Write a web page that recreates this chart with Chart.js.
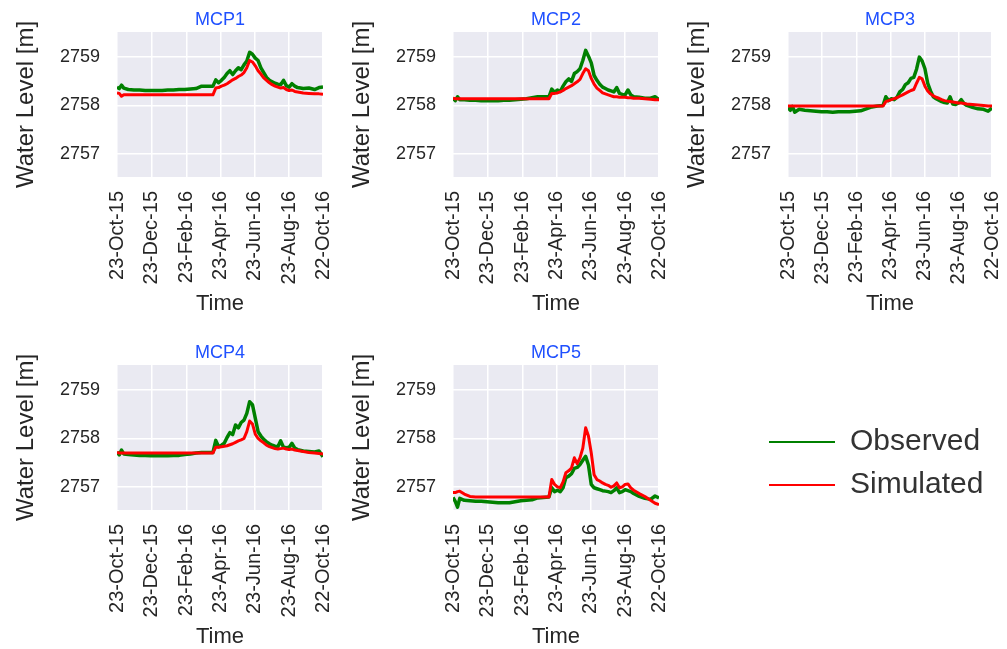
<!DOCTYPE html>
<html>
<head>
<meta charset="utf-8">
<title>Water level MCP1-MCP5</title>
<script src="https://cdn.jsdelivr.net/npm/chart.js@4.4.1/dist/chart.umd.min.js"></script>
<style>
  html, body { margin: 0; padding: 0; background: #fff; overflow: hidden; }
  body { width: 1007px; height: 649px; position: relative; }
  canvas { position: absolute; }
</style>
</head>
<body>
<canvas id="mcp1" width="340" height="317" style="left:0px;top:0px"></canvas>
<canvas id="mcp2" width="340" height="317" style="left:336px;top:0px"></canvas>
<canvas id="mcp3" width="336" height="317" style="left:671px;top:0px"></canvas>
<canvas id="mcp4" width="340" height="317" style="left:0px;top:333px"></canvas>
<canvas id="mcp5" width="340" height="317" style="left:336px;top:333px"></canvas>
<canvas id="legend" width="249" height="110" style="left:756px;top:414px"></canvas>
<script>
// days since 23-Oct-15
var days = [0,4,8,12,20,30,40,50,60,70,80,90,100,110,120,130,140,150,160,
  170,175,180,185,190,195,200,205,210,215,220,225,230,235,240,245,250,255,260,265,270,275,280,285,290,295,300,305,310,315,320,
  330,340,350,358,365];

var tickDays = [0, 61, 123, 183, 244, 305, 365];
var tickLabels = ['23-Oct-15', '23-Dec-15', '23-Feb-16', '23-Apr-16', '23-Jun-16', '23-Aug-16', '22-Oct-16'];
var levelTicks = [2757, 2758, 2759];
var panelNames = ['MCP1', 'MCP2', 'MCP3', 'MCP4', 'MCP5'];

var obsMCP1 = [2758.38,2758.35,2758.42,2758.36,2758.33,2758.32,2758.32,2758.31,2758.31,2758.31,2758.31,2758.32,2758.32,2758.33,2758.33,2758.34,2758.35,2758.40,2758.40,
  2758.40,2758.53,2758.47,2758.52,2758.58,2758.66,2758.72,2758.64,2758.72,2758.78,2758.74,2758.84,2758.92,2759.10,2759.06,2758.98,2758.93,2758.78,2758.68,2758.58,2758.52,2758.49,2758.46,2758.44,2758.43,2758.52,2758.41,2758.38,2758.45,2758.40,2758.37,
  2758.35,2758.36,2758.33,2758.37,2758.38];
var simMCP1 = [2758.26,2758.25,2758.19,2758.22,2758.22,2758.22,2758.22,2758.22,2758.22,2758.22,2758.22,2758.22,2758.22,2758.22,2758.22,2758.22,2758.22,2758.22,2758.22,
  2758.22,2758.36,2758.37,2758.40,2758.42,2758.45,2758.49,2758.53,2758.56,2758.60,2758.63,2758.68,2758.78,2758.93,2758.90,2758.82,2758.72,2758.65,2758.57,2758.52,2758.47,2758.43,2758.40,2758.38,2758.36,2758.37,2758.33,2758.31,2758.32,2758.29,2758.28,
  2758.26,2758.25,2758.24,2758.24,2758.23];

var obsMCP2 = [2758.15,2758.10,2758.18,2758.12,2758.12,2758.11,2758.11,2758.10,2758.10,2758.10,2758.10,2758.11,2758.11,2758.12,2758.13,2758.14,2758.16,2758.18,2758.18,
  2758.18,2758.34,2758.27,2758.32,2758.29,2758.40,2758.49,2758.55,2758.50,2758.66,2758.70,2758.76,2758.93,2759.14,2759.02,2758.88,2758.62,2758.52,2758.44,2758.38,2758.35,2758.32,2758.30,2758.28,2758.37,2758.25,2758.23,2758.22,2758.32,2758.22,2758.18,
  2758.17,2758.15,2758.15,2758.18,2758.12];
var simMCP2 = [2758.15,2758.14,2758.14,2758.14,2758.14,2758.14,2758.14,2758.14,2758.14,2758.14,2758.14,2758.14,2758.14,2758.14,2758.14,2758.14,2758.14,2758.14,2758.14,
  2758.14,2758.25,2758.25,2758.26,2758.28,2758.31,2758.35,2758.38,2758.41,2758.45,2758.49,2758.54,2758.66,2758.76,2758.72,2758.56,2758.44,2758.36,2758.31,2758.26,2758.24,2758.22,2758.20,2758.18,2758.18,2758.17,2758.17,2758.17,2758.16,2758.16,2758.15,
  2758.15,2758.14,2758.13,2758.12,2758.12];

var obsMCP3 = [2757.96,2757.90,2757.98,2757.86,2757.92,2757.90,2757.89,2757.88,2757.87,2757.87,2757.86,2757.87,2757.87,2757.87,2757.88,2757.89,2757.93,2757.97,2757.99,
  2758.00,2758.18,2758.10,2758.14,2758.12,2758.17,2758.28,2758.33,2758.43,2758.47,2758.56,2758.58,2758.75,2759.00,2758.92,2758.76,2758.46,2758.30,2758.18,2758.14,2758.11,2758.08,2758.06,2758.05,2758.18,2758.03,2758.02,2758.05,2758.12,2758.04,2758.00,
  2757.96,2757.93,2757.92,2757.88,2757.95];
var simMCP3 = [2757.99,2757.99,2757.99,2757.99,2757.99,2757.99,2757.99,2757.99,2757.99,2757.99,2757.99,2757.99,2757.99,2757.99,2757.99,2757.99,2757.99,2757.99,2757.99,
  2757.99,2758.08,2758.10,2758.12,2758.14,2758.16,2758.19,2758.22,2758.25,2758.28,2758.31,2758.33,2758.46,2758.58,2758.55,2758.40,2758.30,2758.24,2758.20,2758.17,2758.15,2758.12,2758.10,2758.09,2758.08,2758.07,2758.06,2758.05,2758.05,2758.04,2758.03,
  2758.02,2758.01,2758.00,2757.99,2757.99];

var obsMCP4 = [2757.72,2757.66,2757.76,2757.68,2757.67,2757.66,2757.65,2757.65,2757.64,2757.64,2757.64,2757.64,2757.65,2757.65,2757.67,2757.68,2757.70,2757.71,2757.71,
  2757.71,2757.96,2757.83,2757.86,2757.90,2758.02,2758.12,2758.08,2758.28,2758.22,2758.33,2758.38,2758.52,2758.76,2758.70,2758.42,2758.14,2758.05,2757.98,2757.93,2757.89,2757.86,2757.84,2757.83,2757.95,2757.82,2757.81,2757.82,2757.90,2757.80,2757.77,
  2757.74,2757.73,2757.72,2757.74,2757.62];
var simMCP4 = [2757.71,2757.70,2757.70,2757.70,2757.70,2757.70,2757.70,2757.70,2757.70,2757.70,2757.70,2757.70,2757.70,2757.70,2757.70,2757.70,2757.70,2757.70,2757.70,
  2757.70,2757.82,2757.82,2757.83,2757.84,2757.85,2757.87,2757.89,2757.92,2757.95,2757.97,2758.00,2758.14,2758.36,2758.30,2758.09,2758.00,2757.95,2757.91,2757.86,2757.83,2757.81,2757.79,2757.78,2757.79,2757.80,2757.78,2757.77,2757.78,2757.76,2757.75,
  2757.73,2757.71,2757.70,2757.69,2757.68];

var obsMCP5 = [2756.78,2756.70,2756.58,2756.76,2756.72,2756.71,2756.70,2756.70,2756.69,2756.68,2756.67,2756.67,2756.67,2756.69,2756.71,2756.72,2756.73,2756.77,2756.78,
  2756.79,2756.98,2756.90,2756.93,2756.90,2756.98,2757.19,2757.22,2757.27,2757.38,2757.40,2757.46,2757.55,2757.63,2757.45,2757.05,2756.98,2756.96,2756.94,2756.92,2756.91,2756.90,2756.88,2756.92,2756.98,2756.88,2756.90,2756.94,2756.92,2756.90,2756.86,
  2756.80,2756.76,2756.74,2756.81,2756.77];
var simMCP5 = [2756.88,2756.88,2756.90,2756.91,2756.85,2756.80,2756.79,2756.79,2756.79,2756.79,2756.79,2756.79,2756.79,2756.79,2756.79,2756.79,2756.79,2756.79,2756.79,
  2756.79,2757.15,2757.05,2757.00,2756.98,2757.10,2757.29,2757.33,2757.39,2757.60,2757.48,2757.60,2757.80,2758.22,2758.05,2757.70,2757.25,2757.15,2757.12,2757.08,2757.05,2757.03,2756.99,2757.02,2757.08,2756.98,2757.00,2757.05,2757.06,2756.98,2756.93,
  2756.86,2756.80,2756.72,2756.66,2756.63];

var OBS_COLOR = '#008000';
var SIM_COLOR = '#ff0000';
var TEXT_COLOR = '#262626';
var FONT = "'Liberation Sans', Arial, sans-serif";

// seaborn-ish grey plot background
var plotBg = {
  id: 'plotBg',
  beforeDraw: function(chart) {
    var a = chart.chartArea;
    if (!a) return;
    var ctx = chart.ctx;
    ctx.save();
    ctx.fillStyle = '#eaeaf2';
    ctx.fillRect(a.left, a.top, a.right - a.left, a.bottom - a.top);
    ctx.restore();
  }
};

function pts(vals) {
  return days.map(function(d, i){ return { x: d, y: vals[i] }; });
}

function noSidePad(s) { s.paddingLeft = 0; s.paddingRight = 0; }

function makePanel(id, name, obs, sim, padRight) {
  var ctx = document.getElementById(id).getContext('2d');
  new Chart(ctx, {
    type: 'line',
    data: {
      datasets: [
        { label: 'Observed', data: pts(obs), borderColor: OBS_COLOR, borderWidth: 3.5, order: 1 },
        { label: 'Simulated', data: pts(sim), borderColor: SIM_COLOR, borderWidth: 3, order: 0 }
      ]
    },
    options: {
      responsive: false,
      animation: false,
      events: [],
      layout: { padding: { left: 0, right: padRight, top: 0, bottom: 0 } },
      elements: { point: { radius: 0 }, line: { tension: 0, borderJoinStyle: 'round' } },
      plugins: { legend: { display: false }, tooltip: { enabled: false } },
      scales: {
        x: {
          type: 'linear', min: 0, max: 365,
          afterBuildTicks: function(s){ s.ticks = tickDays.map(function(v){ return { value: v }; }); },
          afterFit: function(s){ s.height = 140; noSidePad(s); },
          ticks: {
            autoSkip: false, minRotation: 90, maxRotation: 90, padding: 14,
            color: TEXT_COLOR, font: { family: FONT, size: 20 },
            callback: function(v, i){ return tickLabels[i]; }
          },
          grid: { color: '#ffffff', lineWidth: 1.5, drawTicks: false },
          border: { display: false },
          title: { display: true, text: 'Time', color: TEXT_COLOR, font: { family: FONT, size: 22 }, padding: 0 }
        },
        // top axis only carries the panel name, centred over the plot
        top: {
          type: 'linear', position: 'top', min: 0, max: 365,
          afterFit: function(s){ s.height = 32; noSidePad(s); },
          ticks: { display: false },
          grid: { display: false, drawTicks: false },
          border: { display: false },
          title: { display: true, text: name, color: '#1f50ff', font: { family: FONT, size: 18 }, padding: { top: 9, bottom: 1 } }
        },
        y: {
          min: 2756.52, max: 2759.52,
          afterBuildTicks: function(s){ s.ticks = levelTicks.map(function(v){ return { value: v }; }); },
          afterFit: function(s){ s.width = 117; },
          ticks: {
            padding: 17, color: TEXT_COLOR, font: { family: FONT, size: 18 },
            callback: function(v){ return String(v); }
          },
          grid: { color: '#ffffff', lineWidth: 1.5, drawTicks: false },
          border: { display: false },
          title: { display: true, text: 'Water Level [m]', color: TEXT_COLOR, font: { family: FONT, size: 24 }, padding: { top: 12, bottom: 0 } }
        }
      }
    },
    plugins: [plotBg]
  });
}

makePanel('mcp1', panelNames[0], obsMCP1, simMCP1, 17);
makePanel('mcp2', panelNames[1], obsMCP2, simMCP2, 17);
makePanel('mcp3', panelNames[2], obsMCP3, simMCP3, 15);
makePanel('mcp4', panelNames[3], obsMCP4, simMCP4, 17);
makePanel('mcp5', panelNames[4], obsMCP5, simMCP5, 17);

// legend sits in the empty sixth slot
new Chart(document.getElementById('legend').getContext('2d'), {
  type: 'line',
  data: {
    datasets: [
      { label: 'Observed', data: [], borderColor: OBS_COLOR, borderWidth: 2 },
      { label: 'Simulated', data: [], borderColor: SIM_COLOR, borderWidth: 2 }
    ]
  },
  options: {
    responsive: false,
    animation: false,
    events: [],
    scales: { x: { display: false }, y: { display: false } },
    plugins: {
      tooltip: { enabled: false },
      legend: {
        position: 'left', align: 'start', maxWidth: 249,
        labels: {
          usePointStyle: true, pointStyle: 'line', pointStyleWidth: 66,
          padding: 13, color: '#333333', font: { family: FONT, size: 30 }
        }
      }
    }
  }
});
</script>
</body>
</html>
